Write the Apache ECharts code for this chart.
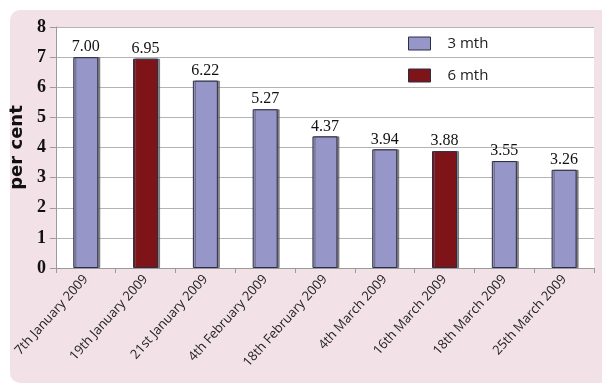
<!DOCTYPE html>
<html>
<head>
<meta charset="utf-8">
<script src="https://cdn.jsdelivr.net/npm/echarts@6/dist/echarts.min.js"></script>
<style>
  html, body { margin: 0; padding: 0; background: #ffffff; }
  #chart { width: 602px; height: 385px; }
</style>
</head>
<body>
<div id="chart"></div>
<script>
// Deposit rates by announcement date
const categories = [
  '7th January 2009', '19th January 2009', '21st January 2009',
  '4th February 2009', '18th February 2009', '4th March 2009',
  '16th March 2009', '18th March 2009', '25th March 2009'
];
const threeMonth = [7.00, '-', 6.22, 5.27, 4.37, 3.94, '-', 3.55, 3.26];
const sixMonth   = ['-', 6.95, '-', '-', '-', '-', 3.88, '-', '-'];
const yTicks = [0, 1, 2, 3, 4, 5, 6, 7, 8];

const chart = echarts.init(document.getElementById('chart'), null, { renderer: 'canvas' });

const barStyle = (color) => ({
  color: color,
  borderColor: '#2c2c48',
  borderWidth: 1,
  shadowColor: 'rgba(90,90,90,0.7)',
  shadowOffsetX: 2,
  shadowOffsetY: 0,
  shadowBlur: 0
});

const valueLabel = {
  show: true,
  position: 'top',
  distance: 2,
  fontFamily: 'Liberation Serif',
  fontSize: 16,
  color: '#111',
  formatter: (p) => Number(p.value).toFixed(2)
};

chart.setOption({
  animation: false,
  graphic: [{
    type: 'rect',
    z: -10,
    silent: true,
    shape: { x: 10, y: 10, width: 700, height: 373, r: [10, 0, 0, 10] },
    style: { fill: '#f2e1e7' }
  }],
  grid: { left: 54, top: 27, width: 540, height: 241, backgroundColor: '#ffffff', show: true, borderWidth: 0 },
  legend: {
    orient: 'vertical',
    left: 403,
    top: 31,
    icon: 'rect',
    itemWidth: 22,
    itemHeight: 13,
    itemGap: 17,
    textStyle: { fontFamily: 'Open Sans', fontSize: 15, color: '#222', padding: [0, 0, 0, 12] },
    data: [
      { name: '3 mth', itemStyle: { borderColor: '#2c2c48', borderWidth: 1 } },
      { name: '6 mth', itemStyle: { borderColor: '#2c2c48', borderWidth: 1 } }
    ]
  },
  xAxis: {
    type: 'category',
    data: categories,
    axisLine: { lineStyle: { color: '#9a9a9a' } },
    axisTick: { show: true, length: 5, lineStyle: { color: '#9a9a9a' } },
    axisLabel: {
      rotate: 48,
      margin: 9,
      interval: 0,
      fontFamily: 'Open Sans',
      fontSize: 13,
      color: '#222'
    }
  },
  yAxis: {
    type: 'value',
    min: yTicks[0],
    max: yTicks[yTicks.length - 1],
    interval: 1,
    name: 'per cent',
    nameLocation: 'middle',
    nameGap: 27,
    nameRotate: 90,
    nameTextStyle: { fontFamily: 'DejaVu Sans', fontWeight: 'bold', fontSize: 18, color: '#111' },
    axisLine: { show: true, lineStyle: { color: '#9a9a9a' } },
    axisTick: { show: true, length: 6, lineStyle: { color: '#9a9a9a' } },
    axisLabel: {
      margin: 10,
      fontFamily: 'Liberation Serif',
      fontWeight: 'bold',
      fontSize: 18,
      color: '#111'
    },
    splitLine: { lineStyle: { color: '#b4b4b4' } }
  },
  series: [
    {
      name: '3 mth',
      type: 'bar',
      data: threeMonth,
      barWidth: 25,
      barGap: '-100%',
      itemStyle: barStyle('#9696c9'),
      label: valueLabel
    },
    {
      name: '6 mth',
      type: 'bar',
      data: sixMonth,
      barWidth: 25,
      itemStyle: barStyle('#7e1418'),
      label: valueLabel
    }
  ]
});
</script>
</body>
</html>
